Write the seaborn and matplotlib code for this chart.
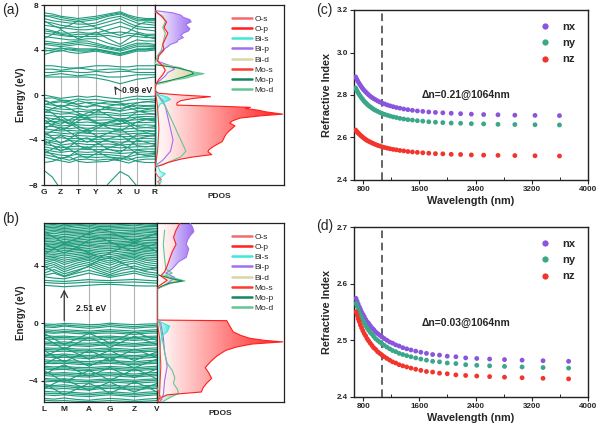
import numpy as np
import pandas as pd
import seaborn as sns
import matplotlib.pyplot as plt
from matplotlib.colors import LinearSegmentedColormap
from matplotlib.lines import Line2D
from matplotlib.ticker import MultipleLocator

sns.set_theme(style="ticks")
plt.rcParams['font.family'] = ['Liberation Sans', 'DejaVu Sans']
plt.rcParams['font.weight'] = 'bold'
plt.rcParams['axes.labelweight'] = 'bold'

# ---------------- band structure (a) ----------------
kpts_a = ['G', 'Z', 'T', 'Y', 'X', 'U', 'R']
kpos_a = [0.0, 0.151, 0.308, 0.469, 0.686, 0.837, 1.0]
# energies at G, mid, Z, mid, T, mid, Y, mid, X, mid, U, mid, R
bands_a_cond = [
    [7.3, 7.2, 7.0, 6.9, 6.8, 6.9, 7.0, 7.2, 7.4, 7.1, 6.9, 6.8, 6.8],
    [7.1, 6.9, 6.7, 6.6, 6.5, 6.6, 6.7, 7.0, 7.2, 6.9, 6.6, 6.6, 6.6],
    [7.0, 7.05, 6.9, 6.75, 6.65, 6.75, 6.85, 7.1, 7.3, 7.0, 6.75, 6.7, 6.7],
    [6.8, 6.6, 6.5, 6.4, 6.3, 6.3, 6.4, 6.8, 7.0, 6.7, 6.4, 6.3, 6.2],
    [6.5, 6.4, 6.2, 6.1, 6.0, 6.1, 6.2, 6.5, 6.8, 6.4, 6.1, 6.0, 6.0],
    [6.2, 6.1, 6.0, 5.9, 5.8, 5.8, 5.9, 6.2, 6.5, 6.2, 5.9, 5.8, 5.7],
    [5.9, 5.7, 5.5, 5.5, 5.6, 5.5, 5.5, 5.8, 6.1, 5.9, 5.6, 5.4, 5.4],
    [5.7, 5.6, 5.4, 5.3, 5.4, 5.4, 5.35, 5.5, 5.6, 5.5, 5.4, 5.3, 5.25],
    [5.5, 5.4, 5.3, 5.2, 5.2, 5.2, 5.2, 5.3, 5.1, 5.3, 5.2, 5.1, 5.1],
    [5.2, 5.1, 5.0, 4.9, 4.9, 5.0, 5.0, 4.6, 4.3, 4.6, 4.9, 4.8, 4.8],
    [4.8, 4.7, 4.6, 4.7, 4.8, 4.8, 4.6, 4.3, 4.1, 4.4, 4.6, 4.6, 4.5],
    [4.6, 4.55, 4.45, 4.55, 4.65, 4.6, 4.45, 4.2, 4.0, 4.25, 4.45, 4.45, 4.4],
    [4.5, 4.4, 4.3, 4.4, 4.5, 4.4, 4.3, 4.1, 3.9, 4.1, 4.3, 4.3, 4.3],
    [4.2, 4.1, 4.1, 4.2, 4.1, 4.1, 4.1, 3.9, 3.7, 3.9, 4.1, 4.1, 4.2],
    [4.0, 3.9, 3.9, 4.1, 4.0, 4.0, 4.05, 3.85, 3.65, 3.85, 4.05, 4.05, 4.15],
    [3.9, 4.0, 4.2, 4.0, 3.9, 3.9, 4.0, 3.8, 3.6, 3.8, 4.0, 4.0, 4.1],
    [3.6, 3.8, 4.0, 3.8, 3.7, 3.8, 3.9, 3.7, 3.5, 3.7, 3.9, 3.9, 4.0],
    [5.0, 5.4, 5.8, 5.4, 5.0, 5.3, 5.6, 5.0, 4.5, 5.0, 5.5, 5.2, 5.0],
    [6.6, 6.2, 5.9, 6.2, 6.6, 6.3, 6.0, 5.6, 5.3, 5.6, 6.2, 6.5, 6.4],
]
bands_a_mid = [
    [2.6, 2.6, 2.5, 2.4, 2.4, 2.5, 2.6, 2.6, 2.5, 2.5, 2.6, 2.6, 2.6],
    [2.3, 2.3, 2.2, 2.3, 2.4, 2.3, 2.2, 2.3, 2.3, 2.2, 2.3, 2.3, 2.3],
    [2.0, 2.0, 2.1, 2.1, 2.0, 2.0, 2.1, 2.0, 2.1, 2.1, 2.0, 2.0, 2.0],
    [1.7, 1.8, 1.9, 1.8, 1.7, 1.8, 1.8, 1.6, 1.6, 1.7, 1.8, 1.8, 1.8],
    [1.6, 1.6, 1.6, 1.6, 1.6, 1.6, 1.5, 1.3, 1.0, 1.2, 1.4, 1.5, 1.6],
]
bands_a_val = [
    [0.0, -0.15, -0.3, -0.2, -0.1, -0.2, -0.1, -0.25, -0.35, -0.2, -0.1, -0.15, -0.1],
    [-0.3, -0.25, -0.45, -0.5, -0.35, -0.45, -0.4, -0.55, -0.6, -0.45, -0.35, -0.4, -0.35],
    [-0.55, -0.7, -0.6, -0.75, -0.8, -0.65, -0.7, -0.8, -0.9, -0.75, -0.7, -0.6, -0.65],
    [-0.8, -0.9, -1.0, -0.9, -1.05, -1.0, -0.95, -1.1, -1.2, -1.05, -0.9, -0.95, -0.9],
    [-1.0, -1.2, -1.25, -1.3, -1.2, -1.35, -1.3, -1.3, -1.45, -1.3, -1.2, -1.2, -1.15],
    [-1.3, -1.35, -1.5, -1.55, -1.45, -1.5, -1.6, -1.55, -1.7, -1.6, -1.5, -1.45, -1.4],
    [-1.5, -1.6, -1.7, -1.65, -1.75, -1.8, -1.75, -1.75, -1.85, -1.8, -1.75, -1.7, -1.7],
    [-1.8, -1.85, -1.95, -1.9, -2.0, -2.0, -1.95, -2.0, -2.1, -2.05, -1.95, -1.9, -1.95],
    [-2.0, -2.1, -2.2, -2.25, -2.15, -2.2, -2.25, -2.2, -2.3, -2.25, -2.2, -2.15, -2.2],
    [-2.3, -2.35, -2.4, -2.5, -2.45, -2.4, -2.5, -2.45, -2.55, -2.5, -2.45, -2.45, -2.4],
    [-2.5, -2.6, -2.75, -2.7, -2.65, -2.7, -2.7, -2.7, -2.8, -2.75, -2.7, -2.65, -2.7],
    [-2.8, -2.8, -2.9, -3.0, -2.9, -2.95, -2.95, -2.95, -3.05, -3.0, -2.95, -2.9, -2.95],
    [-3.0, -3.1, -3.2, -3.15, -3.2, -3.15, -3.2, -3.2, -3.3, -3.25, -3.2, -3.15, -3.2],
    [-3.3, -3.3, -3.4, -3.45, -3.35, -3.4, -3.45, -3.4, -3.5, -3.45, -3.4, -3.4, -3.45],
    [-3.5, -3.6, -3.55, -3.7, -3.6, -3.65, -3.7, -3.65, -3.7, -3.7, -3.65, -3.6, -3.65],
    [-3.7, -3.85, -3.8, -3.9, -3.85, -3.9, -3.95, -3.9, -3.95, -3.9, -3.9, -3.85, -3.9],
    [-3.9, -4.1, -4.2, -4.05, -4.1, -4.15, -4.15, -4.1, -4.2, -4.15, -4.15, -4.1, -4.1],
    [-4.2, -4.25, -4.45, -4.35, -4.3, -4.4, -4.4, -4.35, -4.45, -4.4, -4.35, -4.35, -4.3],
    [-4.4, -4.5, -4.7, -4.6, -4.55, -4.65, -4.6, -4.6, -4.7, -4.65, -4.6, -4.6, -4.55],
    [-4.6, -4.75, -4.9, -4.8, -4.8, -4.85, -4.85, -4.85, -4.95, -4.9, -4.85, -4.8, -4.8],
    [-4.8, -5.0, -5.1, -5.0, -5.05, -5.1, -5.05, -5.1, -5.2, -5.15, -5.1, -5.05, -5.0],
    [-5.1, -5.2, -5.35, -5.4, -5.25, -5.3, -5.3, -5.3, -5.4, -5.5, -5.3, -5.25, -5.2],
    [-5.3, -5.45, -5.6, -5.8, -5.5, -5.5, -5.55, -5.5, -5.6, -5.8, -5.55, -5.5, -5.45],
    [-5.5, -5.7, -5.85, -6.0, -5.75, -5.7, -5.8, -5.7, -5.85, -6.05, -5.8, -5.7, -5.7],
    [-6.0, -5.9, -5.6, -5.5, -5.9, -6.0, -5.95, -5.9, -5.6, -5.6, -5.9, -6.0, -6.0],
    [-1.2, -1.6, -2.2, -2.6, -2.0, -1.6, -1.3, -1.8, -2.4, -2.0, -1.5, -1.3, -1.2],
    [-3.0, -2.6, -2.2, -2.5, -3.0, -3.4, -3.0, -2.5, -2.2, -2.6, -3.1, -3.3, -3.2],
    [-4.0, -4.5, -5.0, -4.6, -4.0, -3.8, -4.2, -4.8, -5.1, -4.6, -4.0, -4.2, -4.4],
    [-3.6, -3.2, -2.9, -3.3, -3.8, -4.2, -3.8, -3.4, -3.0, -3.5, -3.9, -3.7, -3.6],
    [-0.4, -0.8, -1.1, -0.8, -0.5, -0.7, -0.9, -1.2, -1.4, -1.0, -0.7, -0.6, -0.5],
    [-1.6, -1.2, -0.9, -1.2, -1.6, -1.9, -1.5, -1.0, -0.8, -1.1, -1.4, -1.6, -1.7],
    [-2.2, -2.7, -3.1, -2.8, -2.3, -2.0, -2.4, -2.9, -3.2, -2.8, -2.4, -2.2, -2.3],
    [-2.6, -2.2, -1.9, -2.3, -2.8, -3.1, -2.8, -2.4, -2.1, -2.4, -2.8, -2.9, -2.8],
    [-4.4, -4.0, -3.6, -4.0, -4.5, -4.8, -4.4, -3.9, -3.6, -4.0, -4.5, -4.6, -4.5],
    [-4.9, -5.3, -5.7, -5.4, -4.9, -4.6, -5.0, -5.5, -5.8, -5.4, -4.9, -5.0, -5.1],
    [-5.2, -4.8, -4.5, -4.8, -5.3, -5.6, -5.2, -4.7, -4.4, -4.7, -5.2, -5.4, -5.3],
    [-1.9, -2.4, -2.6, -2.2, -1.8, -2.1, -2.5, -2.7, -2.6, -2.3, -2.0, -2.1, -2.1],
    [-3.3, -3.8, -4.3, -3.9, -3.4, -3.2, -3.6, -4.1, -4.4, -4.0, -3.5, -3.4, -3.5],
    [-0.9, -0.6, -0.5, -0.6, -0.9, -1.1, -0.8, -0.6, -0.7, -0.9, -1.1, -1.0, -1.0],
]
bands_a_low = [
    [-6.7, -7.3, -8.4, -9.5, -9.5, -9.5, -9.5, -7.9, -6.8, -7.2, -8.1, -9.5, -9.5],
]

# ---------------- band structure (b) ----------------
kpts_b = ['L', 'M', 'A', 'G', 'Z', 'V']
kpos_b = [0.0, 0.179, 0.397, 0.582, 0.800, 1.0]
# energies at L, mid, M, mid, A, mid, G, mid, Z, mid, V
bands_b_cond = [
    [2.65, 2.6, 2.55, 2.6, 2.65, 2.7, 2.72, 2.68, 2.62, 2.6, 2.6],
    [2.85, 2.8, 2.78, 2.82, 2.88, 2.86, 2.84, 2.86, 2.88, 2.84, 2.8],
    [3.0, 2.95, 2.92, 2.98, 3.05, 3.0, 2.98, 3.02, 3.06, 3.0, 2.96],
    [3.25, 3.15, 3.1, 3.3, 3.5, 3.35, 3.2, 3.35, 3.5, 3.3, 3.2],
    [3.35, 3.5, 3.25, 3.5, 3.7, 3.5, 3.3, 3.5, 3.65, 3.45, 3.35],
    [3.5, 3.75, 3.45, 3.7, 3.95, 3.65, 3.4, 3.7, 3.85, 3.6, 3.5],
    [3.7, 3.95, 3.6, 3.9, 4.1, 3.8, 3.55, 3.85, 4.0, 3.8, 3.7],
    [3.9, 4.1, 3.75, 4.05, 4.25, 3.95, 3.7, 4.05, 4.2, 3.95, 3.85],
    [4.05, 4.25, 3.9, 4.2, 4.4, 4.1, 3.85, 4.2, 4.35, 4.1, 4.0],
    [4.2, 4.4, 4.1, 4.35, 4.5, 4.25, 4.05, 4.35, 4.5, 4.25, 4.15],
    [4.35, 4.5, 4.25, 4.45, 4.6, 4.4, 4.2, 4.5, 4.6, 4.4, 4.3],
    [4.5, 4.6, 4.4, 4.55, 4.7, 4.5, 4.35, 4.6, 4.7, 4.5, 4.45],
    [4.62, 4.7, 4.55, 4.68, 4.8, 4.62, 4.5, 4.7, 4.8, 4.62, 4.58],
    [4.75, 4.8, 4.7, 4.8, 4.9, 4.75, 4.65, 4.8, 4.9, 4.75, 4.7],
    [4.88, 4.92, 4.82, 4.92, 5.0, 4.88, 4.8, 4.92, 5.0, 4.88, 4.82],
    [5.0, 5.05, 4.95, 5.05, 5.1, 5.0, 4.95, 5.05, 5.1, 5.0, 4.95],
    [5.1, 5.18, 5.08, 5.15, 5.22, 5.12, 5.08, 5.18, 5.22, 5.1, 5.08],
    [5.2, 5.3, 5.2, 5.25, 5.35, 5.25, 5.2, 5.3, 5.35, 5.2, 5.2],
    [5.32, 5.4, 5.3, 5.38, 5.45, 5.35, 5.32, 5.4, 5.45, 5.32, 5.3],
    [5.45, 5.5, 5.4, 5.5, 5.55, 5.45, 5.45, 5.5, 5.55, 5.45, 5.4],
    [5.58, 5.6, 5.5, 5.6, 5.65, 5.58, 5.55, 5.6, 5.65, 5.55, 5.52],
    [5.7, 5.7, 5.6, 5.7, 5.75, 5.7, 5.65, 5.7, 5.75, 5.65, 5.65],
    [5.8, 5.82, 5.72, 5.8, 5.88, 5.8, 5.78, 5.82, 5.85, 5.78, 5.75],
    [5.9, 5.95, 5.85, 5.9, 6.0, 5.9, 5.9, 5.95, 5.95, 5.9, 5.85],
    [6.0, 6.05, 5.95, 6.02, 6.1, 6.0, 6.0, 6.05, 6.08, 6.0, 5.98],
    [6.1, 6.15, 6.05, 6.15, 6.2, 6.1, 6.1, 6.15, 6.2, 6.1, 6.1],
    [6.2, 6.28, 6.18, 6.25, 6.3, 6.22, 6.2, 6.25, 6.3, 6.22, 6.2],
    [6.3, 6.4, 6.3, 6.35, 6.4, 6.35, 6.3, 6.35, 6.4, 6.35, 6.3],
    [6.42, 6.5, 6.4, 6.45, 6.52, 6.45, 6.42, 6.48, 6.5, 6.45, 6.4],
    [6.55, 6.6, 6.5, 6.55, 6.65, 6.55, 6.55, 6.6, 6.6, 6.55, 6.5],
    [6.65, 6.7, 6.6, 6.68, 6.75, 6.65, 6.65, 6.7, 6.72, 6.65, 6.62],
    [6.75, 6.8, 6.7, 6.8, 6.85, 6.75, 6.75, 6.8, 6.85, 6.75, 6.75],
    [6.85, 6.9, 6.8, 6.88, 6.95, 6.85, 6.85, 6.9, 6.95, 6.85, 6.82],
    [6.95, 7.0, 6.9, 6.95, 7.05, 6.95, 6.95, 7.0, 7.05, 6.95, 6.9],
    [4.0, 3.6, 3.3, 3.6, 4.0, 4.4, 4.6, 4.2, 3.8, 3.7, 3.9],
    [5.6, 5.2, 4.9, 5.3, 5.8, 6.0, 5.7, 5.3, 5.0, 5.3, 5.6],
    [6.4, 6.0, 5.6, 5.9, 6.3, 6.6, 6.4, 6.0, 5.7, 6.0, 6.3],
    [4.8, 5.2, 5.6, 5.3, 4.9, 4.6, 4.9, 5.3, 5.6, 5.4, 5.0],
]
bands_b_val = [
    [-0.05, -0.08, -0.02, -0.05, -0.1, -0.08, 0.0, -0.06, -0.1, -0.06, -0.04],
    [-0.15, -0.2, -0.12, -0.18, -0.22, -0.2, -0.1, -0.18, -0.24, -0.18, -0.14],
    [-0.25, -0.3, -0.2, -0.28, -0.35, -0.3, -0.22, -0.3, -0.35, -0.28, -0.25],
    [-0.45, -0.5, -0.45, -0.5, -0.55, -0.5, -0.45, -0.5, -0.55, -0.5, -0.45],
    [-0.55, -0.62, -0.58, -0.6, -0.66, -0.6, -0.56, -0.62, -0.66, -0.6, -0.56],
    [-0.65, -0.7, -0.65, -0.72, -0.75, -0.7, -0.68, -0.72, -0.78, -0.7, -0.68],
    [-0.85, -0.92, -0.9, -0.95, -0.98, -0.92, -0.9, -0.95, -1.0, -0.92, -0.9],
    [-0.98, -1.02, -0.98, -1.05, -1.08, -1.02, -1.0, -1.04, -1.1, -1.02, -1.0],
    [-1.1, -1.12, -1.1, -1.15, -1.2, -1.15, -1.1, -1.15, -1.2, -1.15, -1.1],
    [-1.3, -1.35, -1.3, -1.38, -1.4, -1.35, -1.32, -1.35, -1.42, -1.35, -1.3],
    [-1.4, -1.45, -1.42, -1.48, -1.52, -1.46, -1.42, -1.48, -1.52, -1.46, -1.42],
    [-1.5, -1.55, -1.52, -1.58, -1.62, -1.55, -1.52, -1.58, -1.62, -1.55, -1.52],
    [-1.72, -1.75, -1.72, -1.8, -1.82, -1.76, -1.74, -1.78, -1.84, -1.76, -1.72],
    [-1.82, -1.86, -1.84, -1.9, -1.94, -1.88, -1.84, -1.9, -1.94, -1.88, -1.84],
    [-1.92, -1.98, -1.95, -2.0, -2.05, -1.98, -1.95, -2.0, -2.05, -1.98, -1.95],
    [-2.15, -2.2, -2.15, -2.22, -2.25, -2.2, -2.16, -2.22, -2.26, -2.2, -2.15],
    [-2.25, -2.3, -2.28, -2.32, -2.36, -2.3, -2.28, -2.32, -2.36, -2.3, -2.26],
    [-2.35, -2.4, -2.38, -2.42, -2.48, -2.4, -2.38, -2.42, -2.48, -2.42, -2.38],
    [-2.55, -2.62, -2.6, -2.65, -2.68, -2.62, -2.6, -2.65, -2.7, -2.62, -2.58],
    [-2.68, -2.72, -2.7, -2.76, -2.8, -2.74, -2.7, -2.76, -2.8, -2.74, -2.7],
    [-2.8, -2.82, -2.8, -2.86, -2.9, -2.84, -2.8, -2.86, -2.9, -2.84, -2.8],
    [-3.0, -3.05, -3.02, -3.08, -3.1, -3.05, -3.02, -3.06, -3.12, -3.05, -3.0],
    [-3.1, -3.15, -3.12, -3.18, -3.22, -3.16, -3.12, -3.18, -3.22, -3.16, -3.12],
    [-3.2, -3.25, -3.22, -3.3, -3.32, -3.26, -3.22, -3.28, -3.32, -3.26, -3.22],
    [-3.42, -3.48, -3.45, -3.5, -3.55, -3.48, -3.45, -3.5, -3.55, -3.48, -3.44],
    [-3.52, -3.58, -3.55, -3.62, -3.66, -3.6, -3.55, -3.6, -3.66, -3.6, -3.55],
    [-3.65, -3.7, -3.66, -3.72, -3.76, -3.7, -3.66, -3.72, -3.76, -3.7, -3.66],
    [-3.85, -3.9, -3.88, -3.95, -3.98, -3.92, -3.88, -3.94, -3.98, -3.92, -3.88],
    [-3.95, -4.0, -3.98, -4.05, -4.08, -4.02, -3.98, -4.04, -4.08, -4.02, -3.98],
    [-4.1, -4.05, -4.1, -4.2, -4.18, -4.12, -4.1, -4.15, -4.2, -4.14, -4.1],
    [-4.3, -4.35, -4.3, -4.4, -4.42, -4.35, -4.32, -4.38, -4.42, -4.36, -4.32],
    [-4.4, -4.45, -4.42, -4.5, -4.54, -4.48, -4.44, -4.5, -4.54, -4.48, -4.44],
    [-4.5, -4.6, -4.55, -4.62, -4.66, -4.58, -4.55, -4.6, -4.66, -4.58, -4.55],
    [-4.75, -4.8, -4.78, -4.85, -4.9, -4.82, -4.78, -4.84, -4.9, -4.82, -4.78],
    [-4.88, -4.92, -4.9, -4.96, -5.0, -4.94, -4.9, -4.96, -5.0, -4.94, -4.9],
    [-5.0, -5.05, -5.0, -5.08, -5.12, -5.05, -5.0, -5.06, -5.12, -5.05, -5.0],
    [-5.25, -5.3, -5.22, -5.32, -5.38, -5.3, -5.25, -5.3, -5.38, -5.3, -5.25],
    [-5.38, -5.42, -5.4, -5.45, -5.48, -5.44, -5.4, -5.44, -5.48, -5.44, -5.4],
    [-1.0, -1.4, -1.8, -1.4, -1.0, -1.3, -1.7, -1.3, -0.9, -1.2, -1.5],
    [-2.4, -2.0, -1.7, -2.1, -2.5, -2.2, -1.9, -2.3, -2.6, -2.3, -2.0],
    [-3.3, -3.7, -4.1, -3.7, -3.3, -3.6, -4.0, -3.6, -3.2, -3.5, -3.9],
    [-4.6, -4.2, -3.9, -4.3, -4.7, -4.4, -4.1, -4.5, -4.8, -4.5, -4.2],
    [-0.7, -1.1, -1.5, -1.1, -0.7, -1.0, -1.4, -1.0, -0.6, -0.9, -1.2],
    [-2.9, -2.5, -2.2, -2.6, -3.0, -2.7, -2.4, -2.8, -3.1, -2.8, -2.5],
    [-4.2, -4.6, -5.0, -4.6, -4.2, -4.5, -4.9, -4.5, -4.1, -4.4, -4.8],
    [-1.9, -2.3, -2.7, -2.3, -1.9, -2.2, -2.6, -2.2, -1.8, -2.1, -2.4],
    [-3.6, -3.2, -2.9, -3.3, -3.7, -3.4, -3.1, -3.5, -3.8, -3.5, -3.2],
]

# ---------------- PDOS (a) ----------------
a_Os_E = [-6.8, -7.2, -7.5, -7.7, -7.9, -8.0]
a_Os = [0.0, 0.02, 0.05, 0.02, 0.04, 0.03]
a_Op_E = [7.5, 7.0, 6.5, 6.0, 5.5, 5.0, 4.5, 4.0, 3.5, 3.0, 2.6, 2.2, 1.8, 1.4, 1.0, 0.6,
          0.35, 0.15, 0.0, -0.15, -0.3, -0.5, -0.7, -0.9, -1.0, -1.1, -1.2, -1.35, -1.5,
          -1.7, -1.85, -2.05, -2.3, -2.5, -2.75, -2.95, -3.25, -3.5, -3.7, -3.95, -4.15,
          -4.4, -4.6, -4.85, -5.05, -5.3, -5.5, -5.7, -6.0, -6.2, -6.4]
a_Op = [0.0, 0.05, 0.09, 0.07, 0.1, 0.08, 0.06, 0.07, 0.03, 0.02, 0.06, 0.08, 0.06, 0.03, 0.01, 0.0,
        0.0, 0.03, 0.2, 0.43, 0.3, 0.2, 0.17, 0.17, 0.5, 0.74, 0.7, 0.8, 0.86,
        0.99, 0.82, 0.66, 0.6, 0.58, 0.62, 0.6, 0.57, 0.55, 0.54, 0.53, 0.52,
        0.48, 0.45, 0.42, 0.41, 0.44, 0.3, 0.2, 0.1, 0.06, 0.0]
a_Bis_E = [0.2, 0.0, -0.2, -0.4, -0.6, -0.8, -1.2, -2.0, -4.0, -6.0, -6.8, -7.0, -7.2, -7.4, -7.7, -8.0]
a_Bis = [0.0, 0.04, 0.1, 0.12, 0.08, 0.04, 0.02, 0.01, 0.01, 0.01, 0.04, 0.08, 0.06, 0.03, 0.05, 0.02]
a_Bip_E = [7.5, 7.3, 7.1, 6.9, 6.7, 6.5, 6.3, 6.1, 5.9, 5.7, 5.5, 5.3, 5.1, 4.9, 4.7, 4.5, 4.3, 4.0,
           3.6, 3.0, 2.6, 2.3, 2.0, 1.7, 1.3, 1.0, 0.5, 0.0, -0.5, -1.0, -2.0, -3.0, -4.0, -5.0, -5.8, -6.3]
a_Bip = [0.0, 0.14, 0.2, 0.22, 0.27, 0.28, 0.24, 0.25, 0.27, 0.26, 0.22, 0.2, 0.22, 0.18, 0.17, 0.12, 0.1, 0.06,
         0.03, 0.02, 0.12, 0.15, 0.1, 0.08, 0.04, 0.0, 0.0, 0.02, 0.06, 0.08, 0.1, 0.12, 0.14, 0.12, 0.06, 0.0]
a_Bid_E = [2.8, 2.5, 2.2, 2.0, 1.8, 1.5, 1.2, 0.9]
a_Bid = [0.0, 0.15, 0.22, 0.3, 0.26, 0.2, 0.1, 0.0]
a_Mos_E = [0.5, -1.0, -3.0, -5.0, -6.5]
a_Mos = [0.0, 0.02, 0.03, 0.02, 0.0]
a_Mop_E = [2.7, 2.4, 2.1, 1.9, 1.6, 1.3, 1.0]
a_Mop = [0.0, 0.18, 0.28, 0.3, 0.22, 0.12, 0.0]
a_Mod_E = [7.4, 7.0, 6.5, 6.0, 5.5, 5.0, 4.5, 4.0, 3.5, 2.8, 2.6, 2.4, 2.2, 2.0, 1.9, 1.7, 1.5, 1.3,
           1.1, 0.9, 0.5, 0.0, -0.5, -1.0, -1.5, -2.0, -2.5, -3.0, -3.5, -4.0, -4.5, -5.0, -5.5, -6.0, -6.4]
a_Mod = [0.0, 0.06, 0.08, 0.06, 0.08, 0.07, 0.06, 0.05, 0.02, 0.0, 0.12, 0.2, 0.24, 0.32, 0.38, 0.3, 0.24, 0.14,
         0.08, 0.0, 0.0, 0.02, 0.05, 0.08, 0.1, 0.12, 0.14, 0.16, 0.18, 0.2, 0.22, 0.24, 0.2, 0.1, 0.0]

# ---------------- PDOS (b) ----------------
b_Os_E = [-4.5, -5.0, -5.3, -5.5]
b_Os = [0.0, 0.02, 0.04, 0.02]
b_Op_E = [7.0, 6.5, 6.0, 5.5, 5.0, 4.5, 4.0, 3.6, 3.3, 3.0, 2.7, 2.5, 0.3, 0.22, 0.18, 0.0, -0.3, -0.6,
          -0.85, -1.05, -1.2, -1.3, -1.45, -1.65, -1.9, -2.3, -2.7, -3.1, -3.5, -3.85, -4.2, -4.55,
          -4.8, -5.0, -5.25, -5.5]
b_Op = [0.18, 0.15, 0.13, 0.15, 0.12, 0.1, 0.08, 0.06, 0.03, 0.08, 0.03, 0.0, 0.0, 0.01, 0.55, 0.56, 0.58, 0.6,
        0.66, 0.73, 0.85, 0.99, 0.75, 0.63, 0.54, 0.47, 0.42, 0.38, 0.41, 0.43, 0.39, 0.36,
        0.35, 0.08, 0.02, 0.0]
b_Bis_E = [0.2, 0.0, -0.2, -0.4, -0.6, -0.8, -1.2, -2.5, -4.0, -5.5]
b_Bis = [0.0, 0.05, 0.1, 0.09, 0.08, 0.05, 0.03, 0.02, 0.02, 0.01]
b_Bip_E = [7.0, 6.7, 6.4, 6.1, 5.8, 5.5, 5.2, 4.9, 4.6, 4.3, 4.0, 3.8, 3.5, 3.2, 2.9, 2.6, 2.4,
           0.2, 0.0, -1.0, -2.0, -3.0, -4.0, -5.0, -5.5]
b_Bip = [0.26, 0.28, 0.29, 0.26, 0.24, 0.23, 0.25, 0.24, 0.23, 0.17, 0.14, 0.12, 0.07, 0.14, 0.1, 0.05, 0.0,
         0.0, 0.03, 0.05, 0.06, 0.08, 0.06, 0.05, 0.02]
b_Bid_E = [3.4, 3.1, 2.9, 2.6, 2.4]
b_Bid = [0.0, 0.12, 0.15, 0.06, 0.0]
b_Mos_E = [0.2, -1.0, -3.0, -5.0, -5.5]
b_Mos = [0.0, 0.02, 0.03, 0.02, 0.01]
b_Mop_E = [3.4, 3.1, 2.95, 2.8, 2.6, 2.4]
b_Mop = [0.0, 0.12, 0.2, 0.1, 0.04, 0.0]
b_Mod_E = [6.5, 5.5, 4.5, 3.8, 3.5, 3.3, 3.1, 2.95, 2.8, 2.6, 2.4, 0.2, 0.0, -1.0, -2.0, -2.8, -3.3,
           -3.8, -4.2, -4.6, -4.9, -5.2, -5.5]
b_Mod = [0.06, 0.05, 0.06, 0.07, 0.12, 0.06, 0.16, 0.22, 0.1, 0.05, 0.0, 0.0, 0.02, 0.04, 0.06, 0.08, 0.12,
         0.14, 0.13, 0.16, 0.17, 0.1, 0.04]

orbitals = ['O-s', 'O-p', 'Bi-s', 'Bi-p', 'Bi-d', 'Mo-s', 'Mo-p', 'Mo-d']
orb_colors = ['#f46a6a', '#ff1f1f', '#3ee8d6', '#a070f2', '#d9d6a6', '#ff3a2e', '#12875e', '#62c693']
filled = ['O-p', 'Bi-p', 'Mo-d', 'Bi-d', 'Bi-s']

# ---------------- refractive index (c), (d) ----------------
wl_c = [3594, 3246, 2959, 2719, 2515, 2340, 2187, 2053, 1934, 1829, 1734, 1649, 1572, 1501, 1437,
        1378, 1323, 1273, 1227, 1183, 1143, 1105, 1070, 1037, 1006, 976, 949, 923, 898, 874,
        852, 831, 811, 792, 774, 756, 739, 723, 708, 694]
nx_c = [2.703, 2.704, 2.705, 2.707, 2.708, 2.710, 2.712, 2.714, 2.716, 2.718, 2.720, 2.723, 2.725, 2.728,
        2.731, 2.734, 2.738, 2.741, 2.745, 2.749, 2.753, 2.758, 2.762, 2.767, 2.772, 2.778, 2.783, 2.789,
        2.795, 2.802, 2.809, 2.816, 2.823, 2.831, 2.839, 2.848, 2.857, 2.866, 2.875, 2.885]
ny_c = [2.659, 2.660, 2.661, 2.662, 2.664, 2.665, 2.667, 2.668, 2.670, 2.672, 2.674, 2.677, 2.679, 2.682,
        2.684, 2.687, 2.690, 2.694, 2.697, 2.701, 2.705, 2.709, 2.713, 2.718, 2.723, 2.728, 2.733, 2.739,
        2.745, 2.751, 2.758, 2.765, 2.772, 2.780, 2.788, 2.796, 2.805, 2.814, 2.823, 2.833]
nz_c = [2.513, 2.514, 2.515, 2.516, 2.517, 2.518, 2.520, 2.521, 2.523, 2.524, 2.526, 2.528, 2.530, 2.532,
        2.534, 2.537, 2.539, 2.542, 2.544, 2.547, 2.550, 2.553, 2.556, 2.560, 2.563, 2.567, 2.571, 2.575,
        2.579, 2.583, 2.587, 2.592, 2.597, 2.602, 2.607, 2.612, 2.618, 2.623, 2.629, 2.635]

wl_d = [3724, 3360, 3062, 2812, 2600, 2417, 2259, 2120, 1997, 1887, 1789, 1701, 1621, 1548, 1481,
        1420, 1364, 1312, 1264, 1219, 1178, 1139, 1102, 1068, 1036, 1006, 977, 950, 925, 901,
        878, 856, 835, 815, 796, 778, 761, 745, 729, 714, 699]
nx_d = [2.463, 2.464, 2.465, 2.466, 2.467, 2.468, 2.469, 2.471, 2.472, 2.474, 2.475, 2.477, 2.479, 2.481,
        2.483, 2.485, 2.487, 2.490, 2.492, 2.495, 2.497, 2.500, 2.503, 2.506, 2.509, 2.512, 2.515, 2.519,
        2.522, 2.526, 2.530, 2.533, 2.537, 2.542, 2.546, 2.550, 2.555, 2.559, 2.564, 2.569, 2.574]
ny_d = [2.451, 2.452, 2.453, 2.454, 2.455, 2.456, 2.457, 2.459, 2.460, 2.462, 2.463, 2.465, 2.467, 2.469,
        2.471, 2.473, 2.475, 2.477, 2.480, 2.482, 2.485, 2.488, 2.491, 2.494, 2.497, 2.500, 2.503, 2.507,
        2.511, 2.514, 2.518, 2.522, 2.526, 2.531, 2.535, 2.540, 2.545, 2.549, 2.554, 2.560, 2.565]
nz_d = [2.432, 2.433, 2.434, 2.435, 2.436, 2.437, 2.438, 2.439, 2.441, 2.442, 2.444, 2.445, 2.447, 2.449,
        2.451, 2.453, 2.455, 2.457, 2.460, 2.462, 2.465, 2.468, 2.471, 2.474, 2.477, 2.480, 2.484, 2.487,
        2.491, 2.495, 2.499, 2.503, 2.508, 2.512, 2.517, 2.522, 2.527, 2.533, 2.538, 2.544, 2.550]

band_color = '#1f9c7d'
n_palette = {'nx': '#8a55dc', 'ny': '#3aa68a', 'nz': '#f2352c'}


def bold_ticks(ax):
    for lbl in ax.get_xticklabels() + ax.get_yticklabels():
        lbl.set_fontweight('bold')


def band_panel(ax, kpos, klabels, groups, ylim, yticks, lw):
    kpos = np.array(kpos)
    nodes = np.empty(2 * len(kpos) - 1)
    nodes[::2] = kpos
    nodes[1::2] = (kpos[:-1] + kpos[1:]) / 2
    for k in kpos[1:-1]:
        ax.axvline(k, color='#b4b4b4', lw=0.8, zorder=1)
    for group in groups:
        for band in group:
            ax.plot(nodes, band, color=band_color, lw=lw, zorder=2)
    ax.set_xlim(0, 1)
    ax.set_ylim(*ylim)
    ax.set_xticks(kpos)
    ax.set_xticklabels(klabels)
    ax.set_yticks(yticks)
    ax.tick_params(axis='x', length=0, labelsize=6, pad=3)
    ax.tick_params(axis='y', direction='out', length=2.5, width=0.8, labelsize=6, pad=1.5)
    ax.set_ylabel('Energy (eV)', fontsize=7, fontweight='bold', labelpad=2)
    bold_ticks(ax)
    for s in ax.spines.values():
        s.set_linewidth(0.9)
        s.set_color('#222222')


def gradient_fill(ax, dos, energy, color):
    dos = np.asarray(dos, dtype=float)
    energy = np.asarray(energy, dtype=float)
    poly = ax.fill_betweenx(energy, 0, dos, facecolor='none', edgecolor='none', lw=0)
    cmap = LinearSegmentedColormap.from_list('grad', ['#ffffff', color])
    grad = np.linspace(0, 1, 256).reshape(1, -1)
    img = ax.imshow(grad, cmap=cmap, aspect='auto', origin='lower', zorder=1,
                    extent=(0, dos.max(), energy.min(), energy.max()))
    img.set_clip_path(poly.get_paths()[0], transform=ax.transData)


def pdos_panel(ax, series, ylim):
    for name, e, d in series:
        if name in filled:
            gradient_fill(ax, d, e, orb_colors[orbitals.index(name)])
    for name, e, d in series:
        ax.plot(d, e, color=orb_colors[orbitals.index(name)], lw=0.8, zorder=3)
    ax.set_xlim(0, 1.0)
    ax.set_ylim(*ylim)
    ax.set_xticks([])
    ax.set_yticks([])
    ax.set_xlabel('PDOS', fontsize=6, fontweight='bold', labelpad=6)
    handles = [Line2D([], [], color=c, lw=1.8) for c in orb_colors]
    ax.legend(handles, orbitals, loc='upper right', frameon=False,
              handlelength=2.4, labelspacing=0.28, handletextpad=0.3,
              borderaxespad=0.8, prop={'weight': 'normal', 'size': 6})
    for s in ax.spines.values():
        s.set_linewidth(0.9)
        s.set_color('#222222')


def n_panel(ax, wl, nx, ny, nz, ylim, ystep, label, label_y):
    df = pd.DataFrame({
        'Wavelength': wl * 3,
        'n': nx + ny + nz,
        'axis': ['nx'] * len(nx) + ['ny'] * len(ny) + ['nz'] * len(nz),
    })
    ax.axvline(1064, color='#3a3a3a', lw=1.1, ls=(0, (5, 3)), zorder=1)
    sns.scatterplot(data=df, x='Wavelength', y='n', hue='axis', palette=n_palette,
                    s=12, edgecolor='none', ax=ax, zorder=3)
    ax.set_xlim(670, 4000)
    ax.set_ylim(*ylim)
    ax.xaxis.set_major_locator(MultipleLocator(800))
    ax.xaxis.set_minor_locator(MultipleLocator(400))
    ax.yaxis.set_major_locator(MultipleLocator(ystep))
    ax.tick_params(which='major', direction='out', length=3, width=0.8, labelsize=5.8, pad=1.5)
    ax.tick_params(which='minor', axis='x', direction='in', length=2, width=0.7, bottom=True)
    ax.set_xlabel('Wavelength (nm)', fontsize=7.8, fontweight='bold', labelpad=2)
    ax.set_ylabel('Refractive Index', fontsize=7.8, fontweight='bold', labelpad=3)
    bold_ticks(ax)
    sns.move_legend(ax, 'upper right', frameon=False, title=None, markerscale=1.3,
                    prop={'weight': 'bold', 'size': 8}, handletextpad=0.6,
                    labelspacing=0.55, borderaxespad=0.7)
    ax.text(1628, label_y, label, fontsize=7.5, fontweight='bold', va='center', ha='left')
    for s in ax.spines.values():
        s.set_linewidth(1.0)
        s.set_color('#222222')


fig = plt.figure(figsize=(6, 4.28), dpi=100)
W, H = 600, 428


def box(l, t, r, b):
    return [l / W, 1 - b / H, (r - l) / W, (b - t) / H]


ax_a = fig.add_axes(box(44, 5, 155, 185))
ax_ap = fig.add_axes(box(155, 5, 284, 185))
ax_b = fig.add_axes(box(44, 223, 157, 402))
ax_bp = fig.add_axes(box(157, 223, 284, 402))
ax_c = fig.add_axes(box(354, 10, 588, 180))
ax_d = fig.add_axes(box(354, 227, 588, 397))

band_panel(ax_a, kpos_a, kpts_a, [bands_a_cond, bands_a_mid, bands_a_val, bands_a_low],
           (-8, 8), [-8, -4, 0, 4, 8], 0.8)
ax_a.annotate('', xy=(0.62, 1.0), xytext=(0.665, 0.3),
              arrowprops=dict(arrowstyle='->', lw=0.8, color='#333333'))
ax_a.text(0.70, 0.42, '0.99 eV', fontsize=6.3, fontweight='bold', va='center', ha='left')

band_panel(ax_b, kpos_b, kpts_b, [bands_b_cond, bands_b_val], (-5.5, 7), [-4, 0, 4], 0.85)
ax_b.annotate('', xy=(kpos_b[1], 2.55), xytext=(kpos_b[1], 0.0),
              arrowprops=dict(arrowstyle='->', lw=0.9, color='#333333'))
ax_b.text(0.283, 1.0, '2.51 eV', fontsize=6.3, fontweight='bold', va='center', ha='left')

pdos_panel(ax_ap, [('Bi-p', a_Bip_E, a_Bip), ('Mo-d', a_Mod_E, a_Mod), ('Bi-d', a_Bid_E, a_Bid),
                   ('Mo-p', a_Mop_E, a_Mop), ('O-p', a_Op_E, a_Op), ('Bi-s', a_Bis_E, a_Bis),
                   ('O-s', a_Os_E, a_Os), ('Mo-s', a_Mos_E, a_Mos)], (-8, 8))
pdos_panel(ax_bp, [('Bi-p', b_Bip_E, b_Bip), ('Mo-d', b_Mod_E, b_Mod), ('Bi-d', b_Bid_E, b_Bid),
                   ('Mo-p', b_Mop_E, b_Mop), ('O-p', b_Op_E, b_Op), ('Bi-s', b_Bis_E, b_Bis),
                   ('O-s', b_Os_E, b_Os), ('Mo-s', b_Mos_E, b_Mos)], (-5.5, 7))

n_panel(ax_c, wl_c, nx_c, ny_c, nz_c, (2.4, 3.2), 0.2, 'Δn=0.21@1064nm', 2.798)
n_panel(ax_d, wl_d, nx_d, ny_d, nz_d, (2.4, 2.7), 0.1, 'Δn=0.03@1064nm', 2.531)

for x, y, s in [(2, 3, '(a)'), (2, 212, '(b)'), (316, 3, '(c)'), (316, 219, '(d)')]:
    fig.text(x / W, 1 - y / H, s, fontsize=10, fontweight='normal', va='top', ha='left')

fig.savefig('out.png', dpi=100)
